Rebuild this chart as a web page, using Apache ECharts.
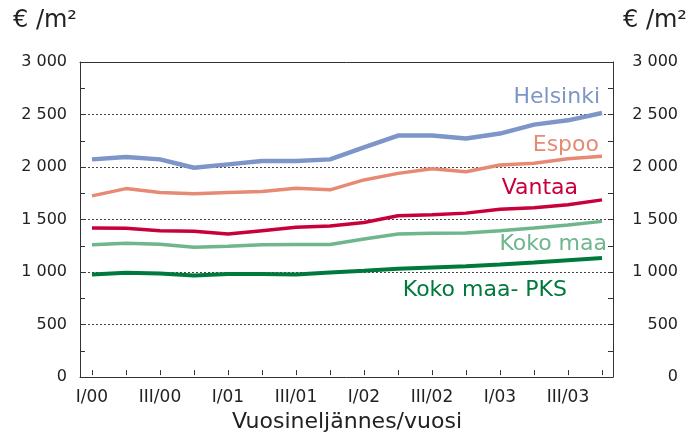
<!DOCTYPE html>
<html>
<head>
<meta charset="utf-8">
<script src="https://cdn.jsdelivr.net/npm/echarts@6/dist/echarts.min.js"></script>
<style>
  html, body { margin: 0; padding: 0; background: #fff; }
  #chart { width: 695px; height: 438px; }
</style>
</head>
<body>
<div id="chart"></div>
<script>
  // neljännekset I/00 ... IV/03
  const quarters = ['I/00', 'II/00', 'III/00', 'IV/00', 'I/01', 'II/01', 'III/01', 'IV/01',
    'I/02', 'II/02', 'III/02', 'IV/02', 'I/03', 'II/03', 'III/03', 'IV/03'];

  const helsinki = [2067, 2089, 2067, 1987, 2019, 2051, 2051, 2067, 2181, 2295, 2295, 2267, 2314, 2400, 2441, 2511];
  const espoo = [1717, 1787, 1749, 1737, 1749, 1759, 1790, 1775, 1870, 1933, 1978, 1949, 2013, 2029, 2073, 2098];
  const vantaa = [1410, 1406, 1384, 1378, 1352, 1384, 1416, 1429, 1463, 1527, 1536, 1552, 1590, 1603, 1632, 1679];
  const kokoMaa = [1248, 1264, 1254, 1225, 1235, 1248, 1251, 1251, 1305, 1352, 1359, 1362, 1384, 1410, 1438, 1473];
  const kokoMaaPks = [965, 981, 974, 955, 968, 968, 965, 984, 1000, 1019, 1032, 1044, 1060, 1079, 1101, 1121];

  const yTicks = [0, 500, 1000, 1500, 2000, 2500, 3000];

  const font = 'DejaVu Sans';
  const txt = '#222';

  function fmt (v) {
    if (v < 1000) return String(v);
    return Math.floor(v / 1000) + ' ' + String(v % 1000).padStart(3, '0');
  }

  const chart = echarts.init(document.getElementById('chart'), null, { renderer: 'canvas' });

  const frameLine = { show: true, onZero: false, lineStyle: { color: '#333', width: 1 } };

  const yBase = {
    gridIndex: 0,
    type: 'value',
    min: yTicks[0],
    max: yTicks[yTicks.length - 1],
    interval: 500,
    axisLine: frameLine,
    axisTick: { show: true, inside: true, length: 5, lineStyle: { color: '#333' } },
    minorTick: { show: true, splitNumber: 2, length: 5, lineStyle: { color: '#333' } },
    axisLabel: { formatter: fmt, color: txt, fontFamily: font, fontSize: 16 }
  };

  const option = {
    animation: false,
    backgroundColor: '#fff',
    textStyle: { fontFamily: font },
    grid: [
      { left: 80, right: 82, top: 62, bottom: 61 },   // kehys
      { left: 92, right: 93, top: 62, bottom: 61 }    // viivat
    ],
    xAxis: [
      {
        gridIndex: 0, type: 'value', min: 0, max: 1, position: 'bottom',
        axisLine: frameLine,
        axisTick: { show: false }, axisLabel: { show: false }, splitLine: { show: false }
      },
      {
        gridIndex: 0, type: 'value', min: 0, max: 1, position: 'top',
        axisLine: frameLine,
        axisTick: { show: false }, axisLabel: { show: false }, splitLine: { show: false }
      },
      {
        gridIndex: 1, type: 'category', data: quarters, boundaryGap: false,
        axisLine: { show: false },
        axisTick: { show: true, inside: true, length: 5, interval: 0, lineStyle: { color: '#333' } },
        axisLabel: { interval: 1, margin: 14, color: txt, fontFamily: font, fontSize: 17 },
        splitLine: { show: false },
        name: 'Vuosineljännes/vuosi',
        nameLocation: 'middle',
        nameGap: 35,
        nameTextStyle: { color: txt, fontFamily: font, fontSize: 22 }
      }
    ],
    yAxis: [
      Object.assign({}, yBase, {
        position: 'left',
        axisLabel: Object.assign({}, yBase.axisLabel, { margin: 13 }),
        splitLine: { show: true, lineStyle: { color: '#444', width: 1, type: [2, 2] } }
      }),
      Object.assign({}, yBase, {
        position: 'right',
        axisLabel: Object.assign({}, yBase.axisLabel, { margin: 65, align: 'right' }),
        splitLine: { show: false }
      }),
      { gridIndex: 1, type: 'value', min: 0, max: 3000, show: false }
    ],
    series: [
      { name: 'Helsinki', data: helsinki, color: '#7d95c8', width: 4.5 },
      { name: 'Espoo', data: espoo, color: '#e68a74', width: 3.5 },
      { name: 'Vantaa', data: vantaa, color: '#c8003c', width: 3.5 },
      { name: 'Koko maa', data: kokoMaa, color: '#6fb68d', width: 3.5 },
      { name: 'Koko maa- PKS', data: kokoMaaPks, color: '#007a3c', width: 4 }
    ].map(s => ({
      name: s.name,
      type: 'line',
      xAxisIndex: 2,
      yAxisIndex: 2,
      data: s.data,
      symbol: 'none',
      lineStyle: { color: s.color, width: s.width },
      itemStyle: { color: s.color }
    })),
    graphic: [
      { type: 'text', left: 13, top: 9, style: { text: '€ /m²', fill: txt, font: '24px "DejaVu Sans"' } },
      { type: 'text', left: 623, top: 9, style: { text: '€ /m²', fill: txt, font: '24px "DejaVu Sans"' } },
      { type: 'text', x: 600, y: 97, style: { text: 'Helsinki', fill: '#7d95c8', font: '22px "DejaVu Sans"', align: 'right', verticalAlign: 'middle' } },
      { type: 'text', x: 599, y: 145, style: { text: 'Espoo', fill: '#e68a74', font: '22px "DejaVu Sans"', align: 'right', verticalAlign: 'middle' } },
      { type: 'text', x: 578, y: 188, style: { text: 'Vantaa', fill: '#c8003c', font: '22px "DejaVu Sans"', align: 'right', verticalAlign: 'middle' } },
      { type: 'text', x: 607, y: 244, style: { text: 'Koko maa', fill: '#6fb68d', font: '22px "DejaVu Sans"', align: 'right', verticalAlign: 'middle' } },
      { type: 'text', x: 567, y: 290, style: { text: 'Koko maa- PKS', fill: '#007a3c', font: '22px "DejaVu Sans"', align: 'right', verticalAlign: 'middle' } }
    ]
  };

  chart.setOption(option);
</script>
</body>
</html>
